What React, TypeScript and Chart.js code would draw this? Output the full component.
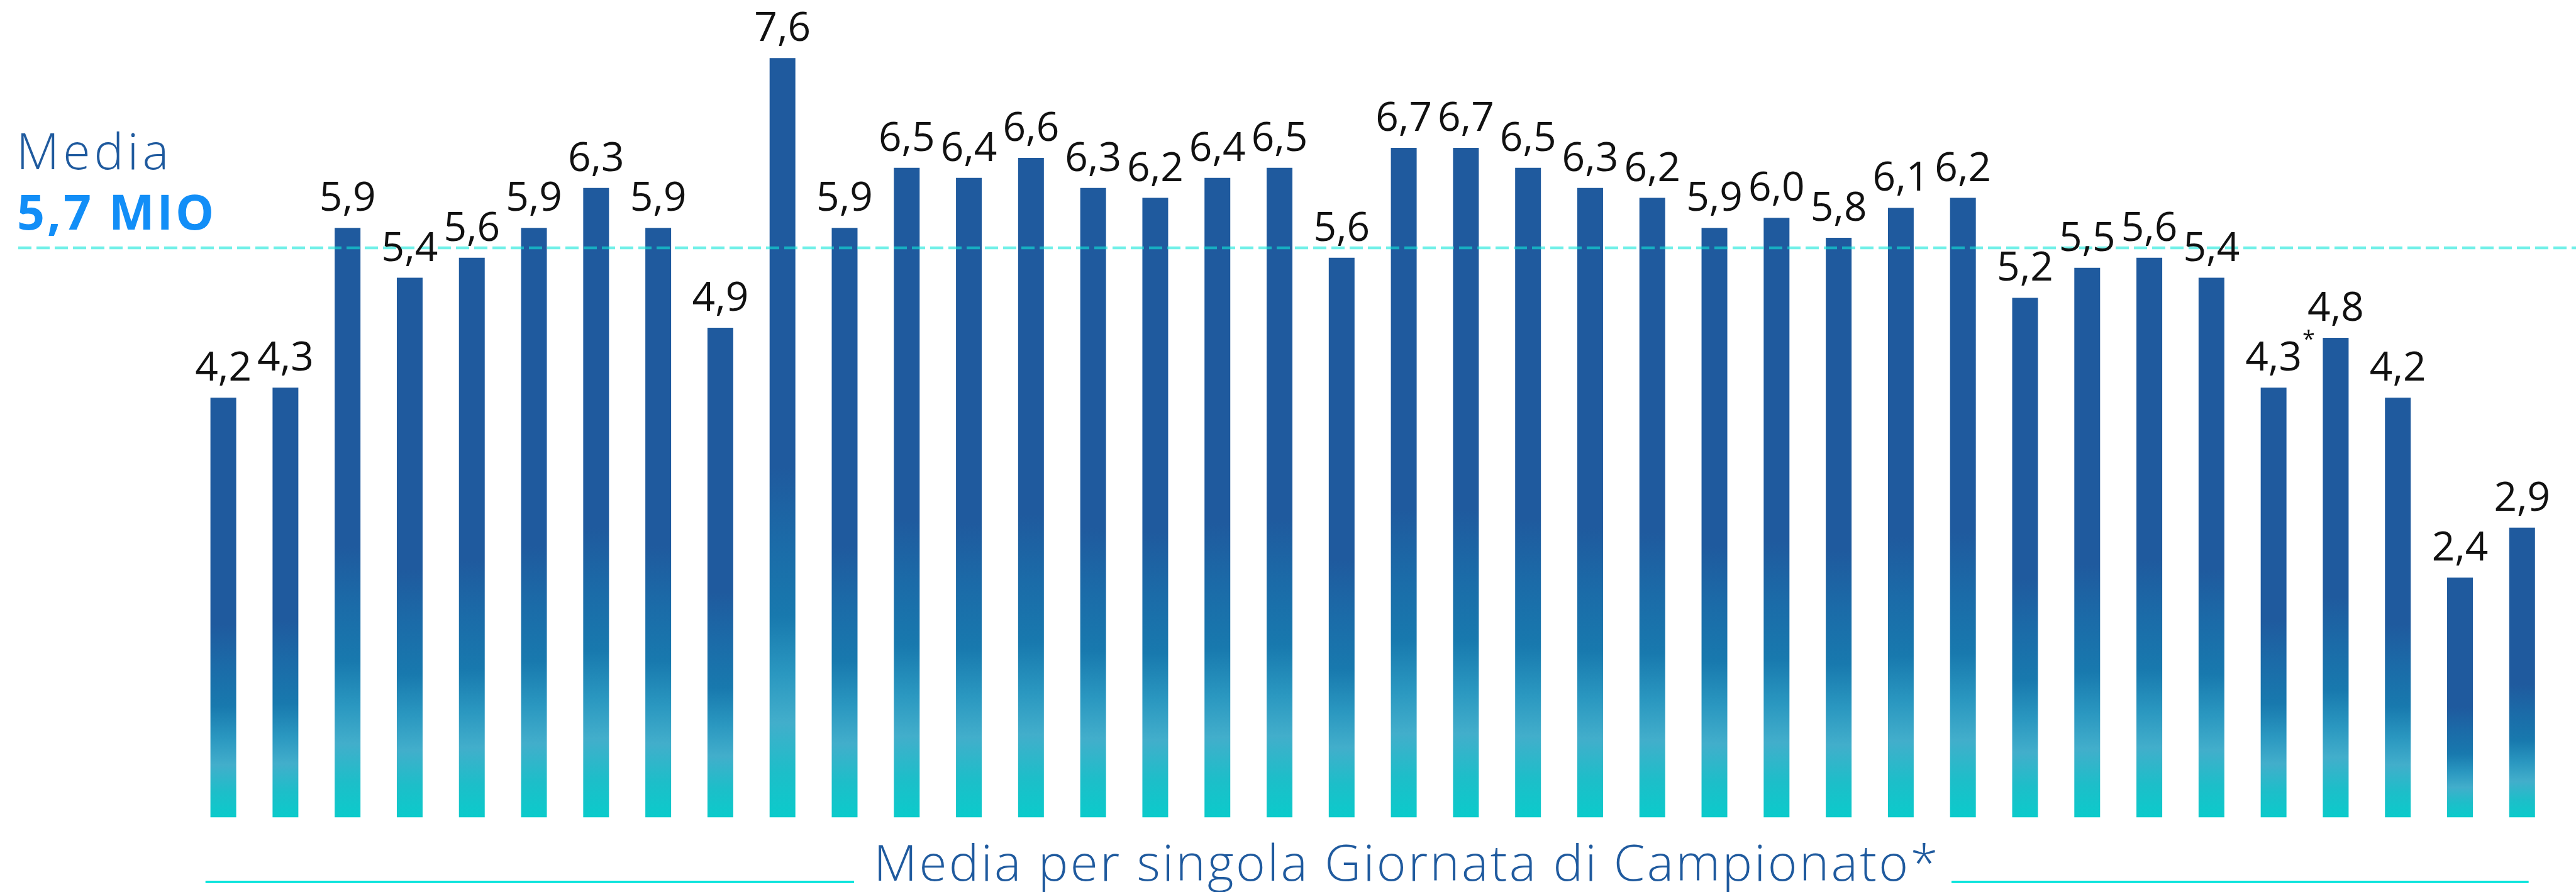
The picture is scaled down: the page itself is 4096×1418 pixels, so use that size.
import React, { useEffect, useRef } from "react";
import { Chart, registerables } from "chart.js";

Chart.register(...registerables);

// ---- data ----
const giornate = ["1","2","3","4","5","6","7","8","9","10","11","12","13","14","15","16","17","18","19","20","21","22","23","24","25","26","27","28","29","30","31","32","33","34","35","36","37","38"];
const ascoltiMedi = [4.2, 4.3, 5.9, 5.4, 5.6, 5.9, 6.3, 5.9, 4.9, 7.6, 5.9, 6.5, 6.4, 6.6, 6.3, 6.2, 6.4, 6.5, 5.6, 6.7, 6.7, 6.5, 6.3, 6.2, 5.9, 6.0, 5.8, 6.1, 6.2, 5.2, 5.5, 5.6, 5.4, 4.3, 4.8, 4.2, 2.4, 2.9];
const giornateConAsterisco = ["34"];
const mediaValore = 5.7;
const mediaEtichetta = "Media";
const mediaTesto = "5,7 MIO";
const titoloAsse = "Media per singola Giornata di Campionato*";

const fmt = (v: number) => v.toFixed(1).replace(".", ",");

const W = 4096;
const H = 1418;

const barGradient = (context: any) => {
  const chart = context.chart;
  const { chartArea, scales } = chart;
  if (!chartArea || !scales || !scales.y) return "#1F5A9E";
  const v = context.raw as number;
  const top = scales.y.getPixelForValue(v);
  const bottom = scales.y.getPixelForValue(0);
  const g = chart.ctx.createLinearGradient(0, bottom, 0, top);
  g.addColorStop(0, "#0BCBCB");
  g.addColorStop(0.06, "#1DBEC9");
  g.addColorStop(0.125, "#42AECB");
  g.addColorStop(0.19, "#2A97C0");
  g.addColorStop(0.265, "#1879AE");
  g.addColorStop(0.36, "#1B6BA8");
  g.addColorStop(0.46, "#1F5A9E");
  g.addColorStop(1, "#1F5A9E");
  return g;
};

const overlayPlugin = {
  id: "overlayPlugin",
  afterDatasetsDraw(chart: any) {
    const { ctx, scales, chartArea } = chart;
    const y = scales.y;
    const meta = chart.getDatasetMeta(0);
    ctx.save();

    // average dashed line
    const yAvg = y.getPixelForValue(mediaValore);
    ctx.strokeStyle = "rgba(18,230,217,0.6)";
    ctx.lineWidth = 4.5;
    ctx.setLineDash([21, 8]);
    ctx.beginPath();
    ctx.moveTo(29, yAvg);
    ctx.lineTo(W, yAvg);
    ctx.stroke();
    ctx.setLineDash([]);

    // value labels
    ctx.fillStyle = "#111111";
    ctx.textBaseline = "alphabetic";
    meta.data.forEach((bar: any, i: number) => {
      const txt = fmt(ascoltiMedi[i]);
      ctx.font = "400 64px 'Open Sans'";
      ctx.textAlign = "center";
      const by = bar.y - 27;
      ctx.fillText(txt, bar.x, by);
      if (giornateConAsterisco.includes(giornate[i])) {
        const w = ctx.measureText(txt).width;
        ctx.font = "400 36px 'Open Sans'";
        ctx.textAlign = "left";
        ctx.fillText("*", bar.x + w / 2 + 1, by - 38);
      }
    });

    // Media annotation
    ctx.textAlign = "left";
    ctx.fillStyle = "#1F5A9E";
    ctx.font = "300 79px 'Open Sans'";
    (ctx as any).letterSpacing = "6px";
    ctx.fillText(mediaEtichetta, 26, 269);
    ctx.fillStyle = "#128EF7";
    ctx.font = "700 77px 'Open Sans'";
    (ctx as any).letterSpacing = "4px";
    ctx.fillText(mediaTesto, 27, 365);

    // bottom title with side lines
    const titleY = 1400;
    ctx.fillStyle = "#1F5A9E";
    ctx.font = "300 80px 'Open Sans'";
    (ctx as any).letterSpacing = "3.3px";
    ctx.textAlign = "center";
    ctx.fillText(titoloAsse, 2237, titleY);
    (ctx as any).letterSpacing = "0px";

    ctx.strokeStyle = "#00E2DA";
    ctx.lineWidth = 3.5;
    ctx.beginPath();
    ctx.moveTo(chartArea.left + 21, titleY + 2);
    ctx.lineTo(1358, titleY + 2);
    ctx.moveTo(3103, titleY + 2);
    ctx.lineTo(chartArea.right - 39, titleY + 2);
    ctx.stroke();

    ctx.restore();
  },
};

export default function App() {
  const ref = useRef<HTMLCanvasElement | null>(null);

  useEffect(() => {
    document.body.style.margin = "0";
    if (!ref.current) return;
    const chart = new Chart(ref.current, {
      type: "bar",
      data: {
        labels: giornate,
        datasets: [
          {
            data: ascoltiMedi,
            backgroundColor: barGradient,
            borderWidth: 0,
            categoryPercentage: 1,
            barPercentage: 0.415,
          },
        ],
      },
      options: {
        responsive: false,
        animation: false,
        devicePixelRatio: 1,
        layout: {
          padding: { left: 305.7, right: 36.3, top: 0, bottom: 118.6 },
        },
        plugins: {
          legend: { display: false },
          tooltip: { enabled: false },
          title: { display: false },
        },
        scales: {
          x: { display: false, grid: { display: false } },
          y: { display: false, min: 0, max: 8.18, grid: { display: false } },
        },
      },
      plugins: [overlayPlugin],
    });
    return () => chart.destroy();
  }, []);

  return (
    <div style={{ position: "absolute", left: 0, top: 0, width: W, height: H, background: "#ffffff" }}>
      <canvas ref={ref} width={W} height={H} style={{ display: "block", width: W, height: H }} />
    </div>
  );
}
